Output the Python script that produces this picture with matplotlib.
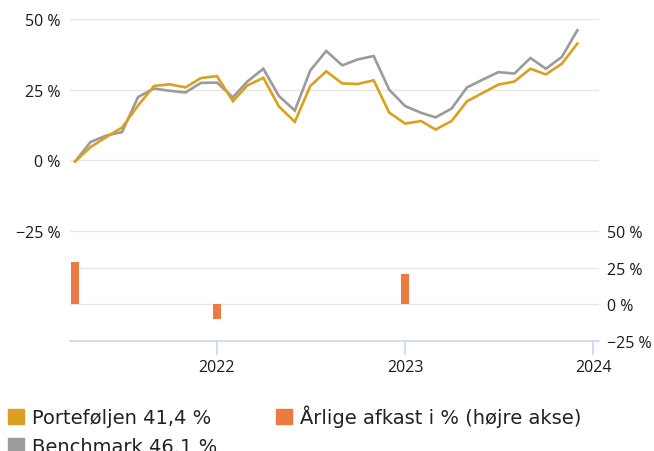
import matplotlib
matplotlib.use("Agg")
import matplotlib.pyplot as plt
import matplotlib.dates as mdates
from matplotlib.patches import Rectangle
import pandas as pd

months = pd.date_range("2021-04-01", "2023-12-01", freq="MS")
portfolio = [-0.4, 4.7, 8.3, 11.6, 19.4, 26.3, 26.9, 25.8, 29.1, 29.8, 20.9, 26.5,
             29.2, 19.1, 13.6, 26.3, 31.5, 27.2, 27.0, 28.3, 16.9, 13.0, 13.9, 10.9,
             13.9, 20.9, 23.9, 26.8, 27.9, 32.4, 30.4, 34.2, 41.3]
benchmark = [-0.4, 6.5, 8.8, 10.0, 22.4, 25.4, 24.6, 24.0, 27.4, 27.5, 22.3, 27.9,
             32.4, 22.8, 17.6, 31.8, 38.7, 33.6, 35.7, 36.9, 25.0, 19.2, 16.8, 15.2,
             18.3, 25.8, 28.6, 31.2, 30.7, 36.2, 32.4, 36.6, 46.0]
bar_dates = pd.to_datetime(["2021-04-01", "2022-01-01", "2023-01-01"])
bar_values = [28.7, -9.8, 20.7]
yticks = [-25, 0, 25, 50]
ytick_labels = ["\u221225 %", "0 %", "25 %", "50 %"]
legend_port = "Porteføljen 41,4 %"
legend_bench = "Benchmark 46.1 %"
legend_bar = "Årlige afkast i % (højre akse)"

GOLD = "#DAA020"
GRAY = "#9B9B9B"
ORANGE = "#EA7B42"
GRID = "#E6E6E6"
AXIS = "#CCD6EB"
TXT = "#222222"

W, H = 654, 452
fig = plt.figure(figsize=(W / 100, H / 100), dpi=100)

def fx(px):
    return px / W

def fy(py):
    return 1 - py / H

left, right = 70, 599
ax1 = fig.add_axes([fx(left), fy(232), fx(right - left), fy(20) - fy(232)])
ax2 = fig.add_axes([fx(left), fy(342), fx(right - left), fy(232) - fy(342)], sharex=ax1)

xmin = pd.Timestamp("2021-03-22")
xmax = pd.Timestamp("2024-01-12")

tick_font = dict(family="Open Sans", size=11.5, color="#1a1a1a")

# main axis
ax1.plot(months, benchmark, color=GRAY, lw=1.9, solid_joinstyle="miter", zorder=3)
ax1.plot(months, portfolio, color=GOLD, lw=1.9, solid_joinstyle="miter", zorder=4)
ax1.set_ylim(-25, 50)
ax1.set_yticks(yticks)
ax1.set_yticklabels(ytick_labels, **tick_font)
ax1.tick_params(axis="y", length=0, pad=7)
ax1.tick_params(axis="x", which="both", length=0, labelbottom=False)
for s in ax1.spines.values():
    s.set_visible(False)
ax1.grid(axis="y", color=GRID, lw=1)
ax1.set_axisbelow(True)
ax1.patch.set_alpha(0)

# bar axis
ax2.bar(bar_dates, bar_values, width=14.5, color=ORANGE, align="center", zorder=3)
ax2.set_ylim(-25, 50)
ax2.set_yticks(yticks)
ax2.yaxis.tick_right()
ax2.set_yticklabels(ytick_labels, **tick_font)
ax2.tick_params(axis="y", length=0, pad=6)
for k in ["top", "left", "right"]:
    ax2.spines[k].set_visible(False)
ax2.spines["bottom"].set_color(AXIS)
ax2.spines["bottom"].set_linewidth(1.2)
ax2.grid(axis="y", color=GRID, lw=1)
ax2.set_axisbelow(True)
ax2.patch.set_alpha(0)
ax2.xaxis.set_major_locator(mdates.YearLocator())
ax2.xaxis.set_major_formatter(mdates.DateFormatter("%Y"))
ax2.tick_params(axis="x", length=10, width=1.2, color=AXIS, pad=3)
for lbl in ax2.get_xticklabels():
    lbl.set_fontfamily("Open Sans")
    lbl.set_fontsize(11.5)
    lbl.set_color("#1a1a1a")
ax2.set_xlim(xmin, xmax)

# legend (drawn manually for exact placement)
items = [(8, 410, 424, GOLD, legend_port),
         (8, 439, 453, GRAY, legend_bench),
         (276, 410, 424, ORANGE, legend_bar)]
for x0, ytop, base, col, lab in items:
    fig.patches.append(Rectangle((fx(x0), fy(ytop + 15)), fx(16), 15 / H,
                                 transform=fig.transFigure, color=col, figure=fig))
    fig.text(fx(x0 + 24), fy(base), lab, family="DejaVu Sans", size=14,
             color=TXT, va="baseline", ha="left")

fig.savefig("out.png", dpi=100)
